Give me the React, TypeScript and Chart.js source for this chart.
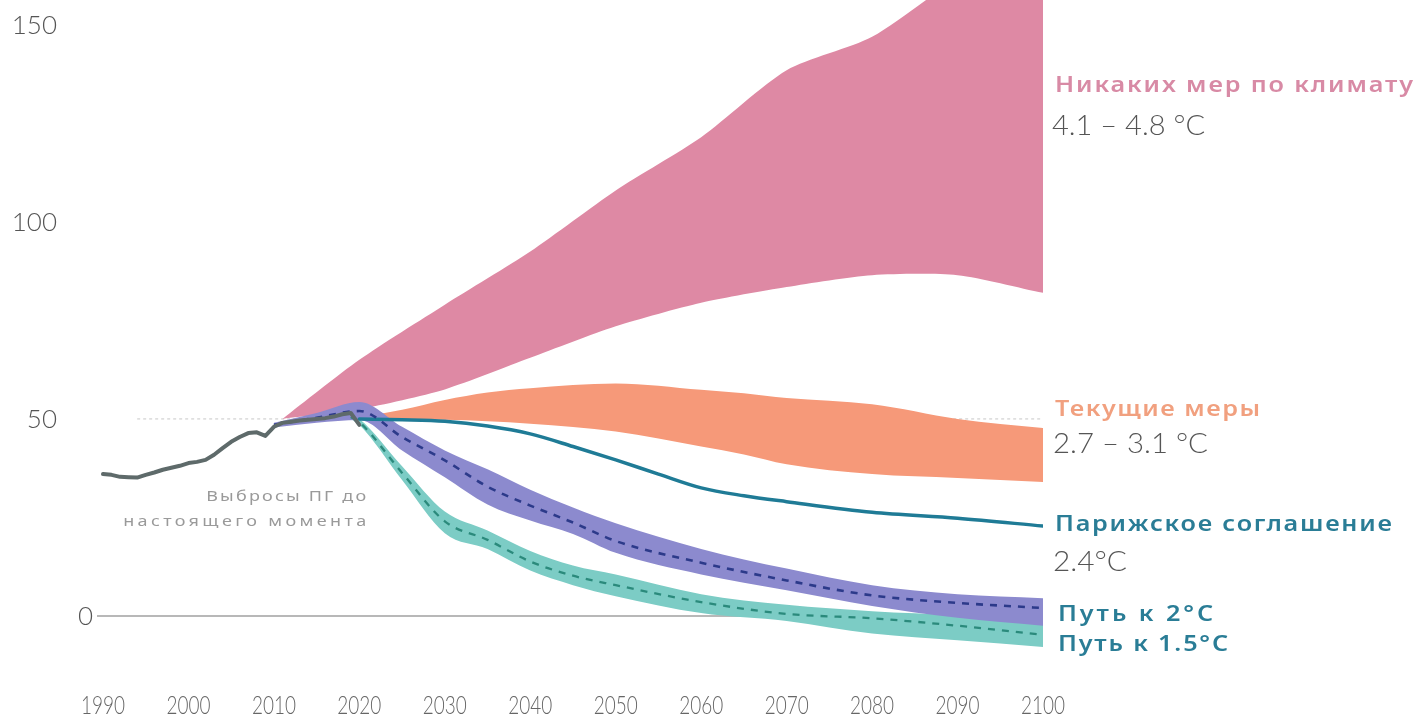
import React, { useEffect, useRef } from "react";
import { Chart, registerables } from "chart.js";

Chart.register(...registerables);

// ---------- data ----------
const histYears = [1990, 1991, 1992, 1993, 1994, 1995, 1996, 1997, 1998, 1999, 2000, 2001, 2002, 2003, 2004, 2005, 2006, 2007, 2008, 2009, 2010, 2011, 2012, 2013, 2014, 2015, 2016, 2017, 2018, 2019, 2020];
const histValues = [36.0, 35.8, 35.3, 35.2, 35.1, 35.8, 36.4, 37.1, 37.6, 38.1, 38.8, 39.1, 39.6, 40.9, 42.6, 44.2, 45.4, 46.4, 46.6, 45.7, 48.0, 49.0, 49.3, 49.6, 49.8, 50.0, 50.2, 50.6, 51.2, 51.5, 48.5];

const pinkYears = [2011, 2020, 2030, 2040, 2050, 2060, 2070, 2080, 2090, 2100];
const pinkUpper = [50, 65, 79, 92.5, 108, 121.5, 138.5, 147, 162, 175];
const pinkLower = [50, 52.5, 57.5, 65.5, 73.5, 79.5, 83.5, 86.5, 86.5, 82];

const orangeYears = [2020, 2025, 2030, 2035, 2040, 2050, 2060, 2065, 2070, 2080, 2090, 2100];
const orangeUpper = [50.3, 52.3, 54.8, 56.7, 57.8, 59, 57.4, 56.5, 55.3, 53.7, 50, 47.7];
const orangeLower = [50, 49.8, 49.8, 49.4, 48.8, 46.8, 43, 41, 38.5, 36, 35, 34];

const parisYears = [2020, 2025, 2030, 2035, 2040, 2045, 2050, 2055, 2060, 2065, 2070, 2080, 2090, 2100];
const parisValues = [50, 49.8, 49.4, 48.2, 46.2, 43, 39.6, 36, 32.5, 30.5, 29, 26.3, 24.8, 22.8];

const twoYears = [2010, 2015, 2020, 2025, 2030, 2035, 2040, 2045, 2050, 2060, 2070, 2080, 2090, 2100];
const twoUpper = [49, 51.5, 54.3, 48, 42, 37.2, 32, 27.5, 23.5, 17, 12, 7.8, 5.5, 4.5];
const twoLower = [47.8, 49, 49.7, 42, 35.2, 28.3, 24.2, 20.8, 16, 10.5, 6.5, 2.5, -0.5, -2.5];
const twoMedian = [48.5, 50.3, 52, 45.4, 39.5, 32.8, 28, 23.7, 19, 13.5, 9, 5.2, 3.3, 2];

const oneFiveYears = [2019, 2020, 2025, 2030, 2035, 2040, 2045, 2050, 2060, 2070, 2080, 2090, 2100];
const oneFiveUpper = [51, 50, 38, 26.5, 21.7, 16.5, 12.8, 10.5, 5.5, 2.8, 1.2, 0.2, -1];
const oneFiveLower = [50, 48.5, 34.5, 21, 17, 11.5, 7.8, 5, 0.7, -1.3, -4.5, -6.2, -7.9];
const oneFiveMedian = [50.5, 49.2, 36.3, 24, 19.3, 13.8, 10.2, 7.8, 3.5, 0.5, -0.6, -2.5, -4.8];

const refYears = [1994, 2100.5];
const refValues = [50, 50];

const xTickYears = [1990, 2000, 2010, 2020, 2030, 2040, 2050, 2060, 2070, 2080, 2090, 2100];
const yTickValues = [0, 50, 100, 150];

const scenarioTitles = ["Никаких мер по климату", "Текущие меры", "Парижское соглашение", "Путь к 2°C", "Путь к 1.5°C"];
const scenarioTemps = ["4.1 – 4.8 °C", "2.7 – 3.1 °C", "2.4°C"];
const historyNote = ["Выбросы ПГ до", "настоящего момента"];

// ---------- helpers ----------
const pts = (xs: number[], ys: number[]) => xs.map((x, i) => ({ x, y: ys[i] }));

const X_MIN = 1989.3;
const X_MAX = 2100;
const Y_MIN = -11.2;
const Y_MAX = 156.35;

// draws text left-aligned at x so that it spans targetW px (mild stretch + letter spacing)
function fitText(ctx: CanvasRenderingContext2D, text: string, x: number, y: number, targetW: number, maxStretch = 1.2, minStretch = 0.85) {
  (ctx as any).letterSpacing = "0px";
  const w = ctx.measureText(text).width;
  let sx = targetW / w;
  sx = Math.max(minStretch, Math.min(maxStretch, sx));
  const rem = targetW - w * sx;
  const n = Math.max(1, text.length - 1);
  const ls = rem / n / sx;
  ctx.save();
  ctx.translate(x, y);
  ctx.scale(sx, 1);
  ctx.textAlign = "left";
  (ctx as any).letterSpacing = ls.toFixed(2) + "px";
  ctx.fillText(text, 0, 0);
  ctx.restore();
  (ctx as any).letterSpacing = "0px";
}

const textPlugin = {
  id: "textPlugin",
  afterDraw(chart: any) {
    const ctx: CanvasRenderingContext2D = chart.ctx;
    const xs = chart.scales.x;
    const ys = chart.scales.y;
    const area = chart.chartArea;
    ctx.save();
    ctx.textBaseline = "middle";

    // y tick labels
    ctx.font = "300 26px Lato, 'Open Sans', sans-serif";
    ctx.fillStyle = "#555555";
    ctx.textAlign = "right";
    yTickValues.forEach((v) => {
      const py = ys.getPixelForValue(v);
      const px = v === 0 ? area.left - 4 : area.left - 40;
      ctx.fillText(String(v), px, py + 1);
    });

    // x tick labels
    ctx.font = "300 25px Lato, 'Open Sans', sans-serif";
    ctx.fillStyle = "#666666";
    xTickYears.forEach((yr) => {
      const cx = xs.getPixelForValue(yr);
      fitText(ctx, String(yr), cx - 22, area.bottom + 46, 44, 1.1, 0.7);
    });

    // history note
    ctx.font = "15px 'Noto Sans', sans-serif";
    ctx.fillStyle = "#9a9a9a";
    const noteRight = xs.getPixelForValue(2020.8);
    fitText(ctx, historyNote[0], noteRight - 160, ys.getPixelForValue(30.2), 160, 1.2);
    fitText(ctx, historyNote[1], noteRight - 243, ys.getPixelForValue(23.9), 243, 1.2);

    // scenario labels
    const lx = area.right + 12;
    ctx.font = "600 21px 'Noto Sans', sans-serif";
    ctx.fillStyle = "#d88aa5";
    fitText(ctx, scenarioTitles[0], lx, ys.getPixelForValue(134.4), 358);
    ctx.fillStyle = "#f1a07f";
    fitText(ctx, scenarioTitles[1], lx, ys.getPixelForValue(52.3), 205);
    ctx.fillStyle = "#2a7d96";
    fitText(ctx, scenarioTitles[2], lx, ys.getPixelForValue(23.1), 337);
    fitText(ctx, scenarioTitles[3], lx + 3, ys.getPixelForValue(0.3), 155);
    fitText(ctx, scenarioTitles[4], lx + 3, ys.getPixelForValue(-7.4), 170);

    ctx.font = "300 28px Lato, 'Open Sans', sans-serif";
    ctx.fillStyle = "#555555";
    fitText(ctx, scenarioTemps[0], lx - 3, ys.getPixelForValue(124.4), 153);
    fitText(ctx, scenarioTemps[1], lx - 2, ys.getPixelForValue(43.7), 155);
    fitText(ctx, scenarioTemps[2], lx - 2, ys.getPixelForValue(13.8), 74);

    ctx.restore();
  },
};

export default function App() {
  const canvasRef = useRef<HTMLCanvasElement | null>(null);

  useEffect(() => {
    if (!canvasRef.current) return;
    const band = (data: any, color: string, fill: any, smooth: boolean) => ({
      data,
      borderWidth: 0,
      borderColor: color,
      backgroundColor: color,
      fill,
      pointRadius: 0,
      ...(smooth ? { cubicInterpolationMode: "monotone" } : { tension: 0.25 }),
    });
    const chart = new Chart(canvasRef.current, {
      type: "line",
      data: {
        datasets: [
          { data: pts(histYears, histValues), borderColor: "#5e6a6a", borderWidth: 4, pointRadius: 0, fill: false, tension: 0, borderJoinStyle: "round", borderCapStyle: "round" } as any,
          { data: pts(oneFiveYears, oneFiveMedian), borderColor: "#2b8a7c", borderWidth: 2.3, borderDash: [7, 7], pointRadius: 0, fill: false, cubicInterpolationMode: "monotone" },
          { data: pts(twoYears, twoMedian), borderColor: "#2c3a8a", borderWidth: 2.6, borderDash: [7, 7], pointRadius: 0, fill: false, cubicInterpolationMode: "monotone" },
          { data: pts(parisYears, parisValues), borderColor: "#1f7b96", borderWidth: 3.5, pointRadius: 0, fill: false, cubicInterpolationMode: "monotone", borderCapStyle: "round" },
          band(pts(twoYears, twoUpper), "rgb(140,138,206)", "+1", true),
          band(pts(twoYears, twoLower), "rgb(140,138,206)", false, true),
          band(pts(oneFiveYears, oneFiveUpper), "rgb(124,204,197)", "+1", true),
          band(pts(oneFiveYears, oneFiveLower), "rgb(124,204,197)", false, true),
          band(pts(orangeYears, orangeUpper), "rgb(246,153,121)", "+1", true),
          band(pts(orangeYears, orangeLower), "rgb(246,153,121)", false, true),
          band(pts(pinkYears, pinkUpper), "rgb(222,137,164)", "+1", false),
          band(pts(pinkYears, pinkLower), "rgb(222,137,164)", false, false),
          { data: pts(refYears, refValues), borderColor: "#c8c8c8", borderWidth: 1, borderDash: [3, 3], pointRadius: 0, fill: false },
          { data: [{ x: X_MIN, y: 0 }, { x: X_MAX, y: 0 }], borderColor: "#a0a0a0", borderWidth: 1.5, pointRadius: 0, fill: false },
        ] as any,
      },
      options: {
        animation: false,
        responsive: true,
        maintainAspectRatio: false,
        layout: { padding: { left: 97, right: 376, top: 0, bottom: 57 } },
        scales: {
          x: { type: "linear", min: X_MIN, max: X_MAX, display: false },
          y: { type: "linear", min: Y_MIN, max: Y_MAX, display: false },
        },
        plugins: {
          legend: { display: false },
          tooltip: { enabled: false },
        },
      } as any,
      plugins: [textPlugin],
    });
    return () => chart.destroy();
  }, []);

  return (
    <div style={{ position: "absolute", left: 0, top: 0, width: 1419, height: 717, background: "#ffffff" }}>
      <canvas ref={canvasRef} />
    </div>
  );
}
